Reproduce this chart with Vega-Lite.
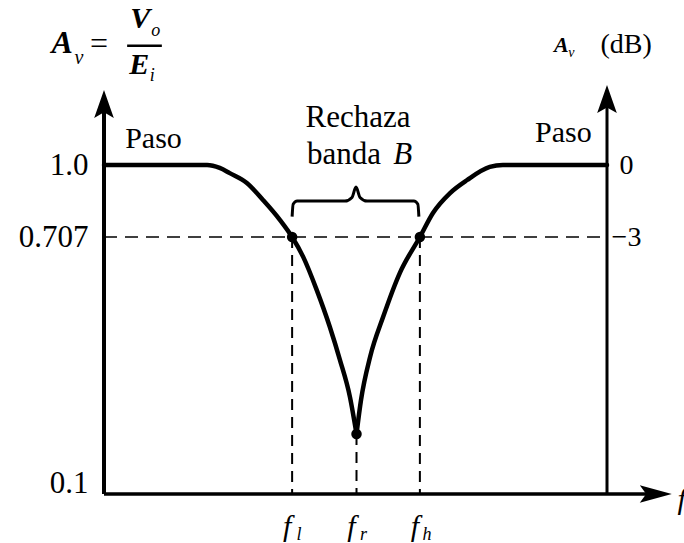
{
  "$schema": "https://vega.github.io/schema/vega-lite/v6.json",
  "width": 503,
  "height": 494,
  "autosize": {"type": "none"},
  "padding": {"left": 104, "top": 0, "right": 77, "bottom": 49},
  "background": "white",
  "config": {"view": {"stroke": null}, "font": "Liberation Serif"},
  "data": {"values": [{}]},
  "datasets": {
    "response": [
      {"freq": 0, "gain": 1.0, "branch": "low"},
      {"freq": 20.5, "gain": 1.0, "branch": "low"},
      {"freq": 23.0, "gain": 0.988, "branch": "low"},
      {"freq": 25.0, "gain": 0.967, "branch": "low"},
      {"freq": 28.4, "gain": 0.927, "branch": "low"},
      {"freq": 31.6, "gain": 0.858, "branch": "low"},
      {"freq": 35.0, "gain": 0.776, "branch": "low"},
      {"freq": 37.4, "gain": 0.707, "branch": "low"},
      {"freq": 39.6, "gain": 0.658, "branch": "low"},
      {"freq": 42.3, "gain": 0.576, "branch": "low"},
      {"freq": 44.9, "gain": 0.485, "branch": "low"},
      {"freq": 46.9, "gain": 0.404, "branch": "low"},
      {"freq": 48.9, "gain": 0.312, "branch": "low"},
      {"freq": 50.2, "gain": 0.221, "branch": "low"},
      {"freq": 50.2, "gain": 0.221, "branch": "high"},
      {"freq": 51.1, "gain": 0.305, "branch": "high"},
      {"freq": 52.9, "gain": 0.411, "branch": "high"},
      {"freq": 55.5, "gain": 0.51, "branch": "high"},
      {"freq": 58.8, "gain": 0.618, "branch": "high"},
      {"freq": 62.8, "gain": 0.707, "branch": "high"},
      {"freq": 65.4, "gain": 0.805, "branch": "high"},
      {"freq": 68.8, "gain": 0.886, "branch": "high"},
      {"freq": 72.2, "gain": 0.939, "branch": "high"},
      {"freq": 76.7, "gain": 0.992, "branch": "high"},
      {"freq": 79.3, "gain": 1.0, "branch": "high"},
      {"freq": 100, "gain": 1.0, "branch": "high"}
    ],
    "cutoffs": [
      {"name": "f_l", "freq": 37.4, "gain": 0.707, "sub": "l"},
      {"name": "f_r", "freq": 50.2, "gain": 0.221, "sub": "r"},
      {"name": "f_h", "freq": 62.8, "gain": 0.707, "sub": "h"}
    ],
    "brace": [
      {"freq": 37.4, "gain": 0.79},
      {"freq": 37.6, "gain": 0.84},
      {"freq": 38.4, "gain": 0.853},
      {"freq": 47.9, "gain": 0.853},
      {"freq": 49.3, "gain": 0.868},
      {"freq": 50.1, "gain": 0.91},
      {"freq": 50.9, "gain": 0.868},
      {"freq": 52.3, "gain": 0.853},
      {"freq": 61.6, "gain": 0.853},
      {"freq": 62.4, "gain": 0.84},
      {"freq": 62.6, "gain": 0.79}
    ]
  },
  "resolve": {"axis": {"y": "independent"}},
  "layer": [
    {
      "mark": {"type": "rule", "strokeWidth": 1.6, "strokeDash": [13, 8], "color": "black"},
      "encoding": {
        "x": {"datum": 0, "type": "quantitative", "scale": {"domain": [0, 100], "nice": false, "zero": false}, "axis": null},
        "x2": {"datum": 100},
        "y": {
          "datum": 0.707,
          "type": "quantitative",
          "scale": {"domain": [0.08, 0.1, 0.707, 1.0, 1.5], "range": [494, 483, 237, 165, 0], "nice": false, "zero": false},
          "axis": {
            "orient": "left",
            "values": [0.1, 0.707, 1.0],
            "labelExpr": "datum.value == 1 ? '1.0' : datum.value == 0.1 ? '0.1' : '0.707'",
            "domain": false,
            "ticks": false,
            "grid": false,
            "title": null,
            "labelFont": "Liberation Serif",
            "labelFontSize": 31,
            "labelColor": "black",
            "labelPadding": 16,
            "labelBaseline": "middle"
          }
        }
      }
    },
    {
      "data": {"name": "cutoffs"},
      "mark": {"type": "rule", "strokeWidth": 2, "strokeDash": [11, 7], "color": "black"},
      "encoding": {
        "x": {"field": "freq", "type": "quantitative", "axis": null},
        "y": {"field": "gain", "type": "quantitative", "axis": null},
        "y2": {"datum": 0.08}
      }
    },
    {
      "mark": {"type": "rule", "strokeWidth": 4, "color": "black"},
      "encoding": {
        "x": {"datum": 0, "type": "quantitative", "axis": null},
        "y": {"datum": 0.08, "type": "quantitative", "axis": null},
        "y2": {"datum": 1.17}
      }
    },
    {
      "mark": {"type": "rule", "strokeWidth": 3, "color": "black"},
      "encoding": {
        "x": {"datum": 100, "type": "quantitative", "axis": null},
        "y": {
          "datum": 0.08,
          "type": "quantitative",
          "axis": {
            "orient": "right",
            "values": [0.707, 1.0],
            "labelExpr": "datum.value == 1 ? '0' : '\u22123'",
            "domain": false,
            "ticks": false,
            "grid": false,
            "title": null,
            "labelFont": "Liberation Serif",
            "labelFontSize": 28,
            "labelColor": "black",
            "labelAlign": "center",
            "labelPadding": 19,
            "labelBaseline": "middle"
          }
        },
        "y2": {"datum": 1.18}
      }
    },
    {
      "mark": {"type": "rule", "strokeWidth": 3.5, "color": "black"},
      "encoding": {
        "x": {"datum": 0, "type": "quantitative", "axis": null},
        "x2": {"datum": 108},
        "y": {"datum": 0.08, "type": "quantitative", "axis": null}
      }
    },
    {
      "mark": {"type": "point", "shape": "M0,-1L0.7,1L0,0.6L-0.7,1Z", "filled": true, "color": "black", "opacity": 1, "size": 784},
      "encoding": {
        "x": {"datum": 0, "type": "quantitative", "axis": null},
        "y": {"datum": 1.185, "type": "quantitative", "axis": null}
      }
    },
    {
      "mark": {"type": "point", "shape": "M0,-1L0.7,1L0,0.6L-0.7,1Z", "filled": true, "color": "black", "opacity": 1, "size": 784},
      "encoding": {
        "x": {"datum": 100, "type": "quantitative", "axis": null},
        "y": {"datum": 1.2, "type": "quantitative", "axis": null}
      }
    },
    {
      "mark": {"type": "point", "shape": "M0,-1L0.55,1L0,0.6L-0.55,1Z", "filled": true, "color": "black", "opacity": 1, "size": 1024, "angle": 90},
      "encoding": {
        "x": {"datum": 109.7, "type": "quantitative", "axis": null},
        "y": {"datum": 0.08, "type": "quantitative", "axis": null}
      }
    },
    {
      "data": {"name": "response"},
      "mark": {"type": "line", "interpolate": "monotone", "strokeWidth": 4.5, "color": "black", "strokeCap": "round", "strokeJoin": "round"},
      "encoding": {
        "x": {"field": "freq", "type": "quantitative", "axis": null},
        "y": {"field": "gain", "type": "quantitative", "axis": null},
        "detail": {"field": "branch"}
      }
    },
    {
      "data": {"name": "cutoffs"},
      "mark": {"type": "point", "filled": true, "color": "black", "opacity": 1, "size": 110},
      "encoding": {
        "x": {"field": "freq", "type": "quantitative", "axis": null},
        "y": {"field": "gain", "type": "quantitative", "axis": null}
      }
    },
    {
      "data": {"name": "brace"},
      "mark": {"type": "line", "interpolate": "monotone", "strokeWidth": 3, "color": "black"},
      "encoding": {
        "x": {"field": "freq", "type": "quantitative", "axis": null},
        "y": {"field": "gain", "type": "quantitative", "axis": null}
      }
    },
    {
      "data": {"name": "cutoffs"},
      "mark": {"type": "text", "font": "Liberation Serif", "fontStyle": "italic", "fontSize": 30, "align": "center", "baseline": "middle", "dx": -5, "dy": 33, "color": "black"},
      "encoding": {
        "x": {"field": "freq", "type": "quantitative", "axis": null},
        "y": {"datum": 0.08, "type": "quantitative", "axis": null},
        "text": {"value": "f"}
      }
    },
    {
      "data": {"name": "cutoffs"},
      "mark": {"type": "text", "font": "Liberation Serif", "fontStyle": "italic", "fontSize": 18, "align": "center", "baseline": "middle", "dx": 7, "dy": 41, "color": "black"},
      "encoding": {
        "x": {"field": "freq", "type": "quantitative", "axis": null},
        "y": {"datum": 0.08, "type": "quantitative", "axis": null},
        "text": {"field": "sub"}
      }
    },
    {
      "mark": {"type": "text", "font": "Liberation Serif", "fontStyle": "italic", "fontSize": 30, "align": "left", "baseline": "middle", "dy": 6, "color": "black"},
      "encoding": {
        "x": {"datum": 114, "type": "quantitative", "axis": null},
        "y": {"datum": 0.08, "type": "quantitative", "axis": null},
        "text": {"value": "f"}
      }
    },
    {
      "mark": {"type": "text", "fontSize": 30, "align": "left", "baseline": "middle", "color": "black"},
      "encoding": {
        "x": {"datum": 4.2, "type": "quantitative", "axis": null},
        "y": {"datum": 1.079, "type": "quantitative", "axis": null},
        "text": {"value": "Paso"}
      }
    },
    {
      "mark": {"type": "text", "fontSize": 30, "align": "left", "baseline": "middle", "color": "black"},
      "encoding": {
        "x": {"datum": 85.7, "type": "quantitative", "axis": null},
        "y": {"datum": 1.097, "type": "quantitative", "axis": null},
        "text": {"value": "Paso"}
      }
    },
    {
      "mark": {"type": "text", "fontSize": 31, "align": "center", "baseline": "middle", "color": "black"},
      "encoding": {
        "x": {"datum": 50.5, "type": "quantitative", "axis": null},
        "y": {"datum": 1.142, "type": "quantitative", "axis": null},
        "text": {"value": "Rechaza"}
      }
    },
    {
      "mark": {"type": "text", "fontSize": 31, "align": "center", "baseline": "middle", "color": "black"},
      "encoding": {
        "x": {"datum": 47.7, "type": "quantitative", "axis": null},
        "y": {"datum": 1.03, "type": "quantitative", "axis": null},
        "text": {"value": "banda"}
      }
    },
    {
      "mark": {"type": "text", "fontSize": 31, "fontStyle": "italic", "align": "center", "baseline": "middle", "color": "black"},
      "encoding": {
        "x": {"datum": 59.4, "type": "quantitative", "axis": null},
        "y": {"datum": 1.03, "type": "quantitative", "axis": null},
        "text": {"value": "B"}
      }
    },
    {
      "mark": {"type": "text", "fontSize": 32, "fontStyle": "italic", "fontWeight": "bold", "align": "center", "baseline": "middle", "color": "black"},
      "encoding": {
        "x": {"datum": -8.3, "type": "quantitative", "axis": null},
        "y": {"datum": 1.37, "type": "quantitative", "axis": null},
        "text": {"value": "A"}
      }
    },
    {
      "mark": {"type": "text", "fontSize": 20, "fontStyle": "italic", "align": "center", "baseline": "middle", "color": "black"},
      "encoding": {
        "x": {"datum": -5.0, "type": "quantitative", "axis": null},
        "y": {"datum": 1.324, "type": "quantitative", "axis": null},
        "text": {"value": "v"}
      }
    },
    {
      "mark": {"type": "text", "fontSize": 32, "align": "center", "baseline": "middle", "color": "black"},
      "encoding": {
        "x": {"datum": -1.0, "type": "quantitative", "axis": null},
        "y": {"datum": 1.367, "type": "quantitative", "axis": null},
        "text": {"value": "="}
      }
    },
    {
      "mark": {"type": "text", "fontSize": 30, "fontStyle": "italic", "fontWeight": "bold", "align": "center", "baseline": "middle", "color": "black"},
      "encoding": {
        "x": {"datum": 7.2, "type": "quantitative", "axis": null},
        "y": {"datum": 1.442, "type": "quantitative", "axis": null},
        "text": {"value": "V"}
      }
    },
    {
      "mark": {"type": "text", "fontSize": 18, "fontStyle": "italic", "align": "center", "baseline": "middle", "color": "black"},
      "encoding": {
        "x": {"datum": 10.3, "type": "quantitative", "axis": null},
        "y": {"datum": 1.406, "type": "quantitative", "axis": null},
        "text": {"value": "o"}
      }
    },
    {
      "mark": {"type": "rule", "strokeWidth": 2.5, "color": "black"},
      "encoding": {
        "x": {"datum": 4.6, "type": "quantitative", "axis": null},
        "x2": {"datum": 11.5},
        "y": {"datum": 1.361, "type": "quantitative", "axis": null}
      }
    },
    {
      "mark": {"type": "text", "fontSize": 30, "fontStyle": "italic", "fontWeight": "bold", "align": "center", "baseline": "middle", "color": "black"},
      "encoding": {
        "x": {"datum": 7.0, "type": "quantitative", "axis": null},
        "y": {"datum": 1.303, "type": "quantitative", "axis": null},
        "text": {"value": "E"}
      }
    },
    {
      "mark": {"type": "text", "fontSize": 18, "fontStyle": "italic", "align": "center", "baseline": "middle", "color": "black"},
      "encoding": {
        "x": {"datum": 9.6, "type": "quantitative", "axis": null},
        "y": {"datum": 1.27, "type": "quantitative", "axis": null},
        "text": {"value": "i"}
      }
    },
    {
      "mark": {"type": "text", "fontSize": 22, "fontStyle": "italic", "fontWeight": "bold", "align": "center", "baseline": "middle", "color": "black"},
      "encoding": {
        "x": {"datum": 90.9, "type": "quantitative", "axis": null},
        "y": {"datum": 1.364, "type": "quantitative", "axis": null},
        "text": {"value": "A"}
      }
    },
    {
      "mark": {"type": "text", "fontSize": 14, "fontStyle": "italic", "align": "center", "baseline": "middle", "color": "black"},
      "encoding": {
        "x": {"datum": 92.9, "type": "quantitative", "axis": null},
        "y": {"datum": 1.339, "type": "quantitative", "axis": null},
        "text": {"value": "v"}
      }
    },
    {
      "mark": {"type": "text", "fontSize": 28, "align": "center", "baseline": "middle", "color": "black"},
      "encoding": {
        "x": {"datum": 103.8, "type": "quantitative", "axis": null},
        "y": {"datum": 1.364, "type": "quantitative", "axis": null},
        "text": {"value": "(dB)"}
      }
    }
  ]
}
